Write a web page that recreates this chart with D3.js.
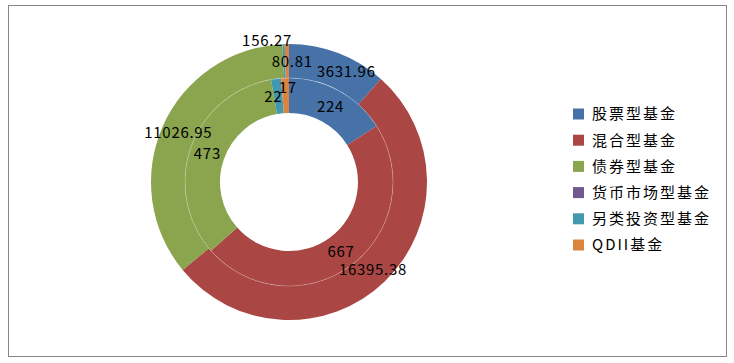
<!DOCTYPE html>
<html><head><meta charset="utf-8">
<script src="https://cdn.jsdelivr.net/npm/d3@7"></script>
<style>
html,body{margin:0;padding:0;background:#fff;}
svg{display:block;}
</style></head>
<body>
<svg id="chart" width="734" height="363"></svg>
<script>
const categories = ["股票型基金","混合型基金","债券型基金","货币市场型基金","另类投资型基金","QDII基金"];
const outerValues = [3631.96, 16395.38, 11026.95, 0, 80.81, 156.27];
const innerValues = [224, 667, 473, 0, 22, 17];
const colors = ["#4672A8","#AA4644","#8AA54E","#71588F","#4198AF","#DB843D"];

const svg = d3.select("#chart");
svg.append("rect").attr("x",8.5).attr("y",5.5).attr("width",718).attr("height",351)
  .attr("fill","#fff").attr("stroke","#868686").attr("stroke-width",1);

const cx = 289, cy = 182;
const rHole = 69, rMid = 104, rOut = 138;
const g = svg.append("g").attr("transform",`translate(${cx},${cy})`);

const pie = d3.pie().sort(null).value(d=>d.value);
const mk = vals => categories.map((c,i)=>({cat:c, i, value:vals[i]}));
const innerArcs = pie(mk(innerValues));
const outerArcs = pie(mk(outerValues));
const arcIn = d3.arc().innerRadius(rHole).outerRadius(rMid);
const arcOut = d3.arc().innerRadius(rMid).outerRadius(rOut);

g.selectAll("path.out").data(outerArcs.filter(d=>d.value>0)).join("path")
  .attr("class","out").attr("d",arcOut).attr("fill",d=>colors[d.data.i]);
g.selectAll("path.in").data(innerArcs.filter(d=>d.value>0)).join("path")
  .attr("class","in").attr("d",arcIn).attr("fill",d=>colors[d.data.i]);
// faint divider between rings
g.append("circle").attr("r",rMid).attr("fill","none")
  .attr("stroke","#fff").attr("stroke-opacity",0.3).attr("stroke-width",0.8);

// label nudges to avoid collisions (like the original's label placement)
const nudge = {
  "out-0":[14,3], "out-4":[8,0], "out-5":[-20,-20],
  "in-4":[-5,0], "in-5":[2,-8]
};
function labels(arcs, arcGen, ring){
  g.selectAll("text."+ring).data(arcs.filter(d=>d.value>0)).join("text")
    .attr("class",ring)
    .attr("transform",d=>{
      const c = arcGen.centroid(d);
      const n = nudge[ring+"-"+d.data.i] || [0,0];
      return `translate(${c[0]+n[0]},${c[1]+n[1]})`;
    })
    .attr("text-anchor","middle").attr("dy","0.36em")
    .style("font-family","'Noto Sans CJK SC', sans-serif").style("font-size","15px")
    .style("letter-spacing","0.7px")
    .attr("fill","#000")
    .text(d=>String(d.value));
}
labels(outerArcs, arcOut, "out");
labels(innerArcs, arcIn, "in");

// legend
const lg = svg.append("g");
const ly = d3.scalePoint().domain(categories).range([114,245]);
const items = lg.selectAll("g").data(categories).join("g")
  .attr("transform",d=>`translate(573,${ly(d)})`);
items.append("rect").attr("x",0).attr("y",-5.5).attr("width",11).attr("height",11)
  .attr("fill",(d,i)=>colors[i]);
items.append("text").attr("x",19).attr("dy","0.36em")
  .style("font-family","'Noto Sans CJK SC', sans-serif").style("font-size","15px")
  .style("letter-spacing","2px").attr("fill","#000").text(d=>d);
</script>
</body></html>
